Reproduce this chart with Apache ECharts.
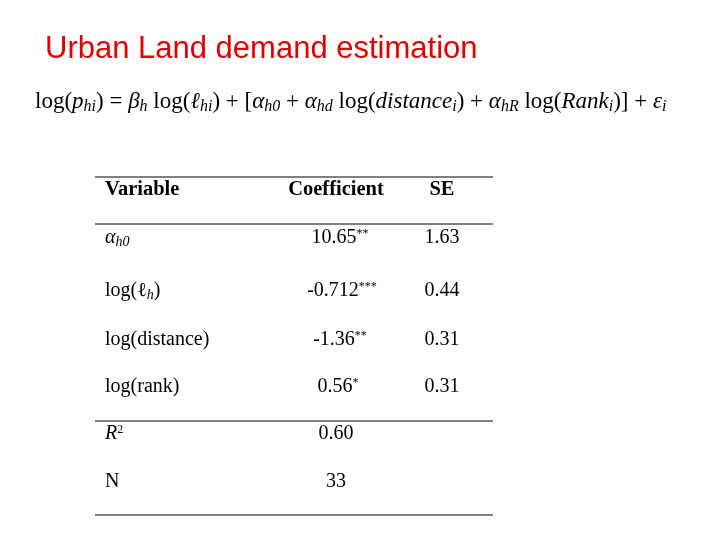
<!DOCTYPE html>
<html>
<head>
<meta charset="utf-8">
<script src="https://cdn.jsdelivr.net/npm/echarts@6/dist/echarts.min.js"></script>
<style>html,body{margin:0;background:#fff}#c{width:720px;height:540px}</style>
</head>
<body>
<div id="c"></div>
<script>
var title = 'Urban Land demand estimation';
var headers = ['Variable', 'Coefficient', 'SE'];
// rich-text labels for variables
var variables = ['{g|α}{s|h0}', 'log(ℓ{s|h})', 'log(distance)', 'log(rank)', '{i|R}{p|2}', 'N'];
var coefs = ['10.65', '-0.712', '-1.36', '0.56', '0.60', '33'];
var stars = ['**', '***', '**', '*', '', ''];
var ses = ['1.63', '0.44', '0.31', '0.31', '', ''];
var rowY = [237, 290, 339, 386, 433, 481];

var myChart = echarts.init(document.getElementById('c'));
var serif = '"Liberation Serif", "DejaVu Serif", serif';
var rich = {
  i: {fontFamily: serif, fontSize: 20, fontStyle: 'italic'},
  g: {fontFamily: serif, fontSize: 20, fontStyle: 'italic'},
  s: {fontFamily: serif, fontSize: 14, fontStyle: 'italic', verticalAlign: 'bottom', padding: [9, 0, 0, 0]},
  p: {fontFamily: serif, fontSize: 12, verticalAlign: 'top', padding: [0, 0, 9, 0]}
};
var frich = {
  i: {fontFamily: serif, fontSize: 23, fontStyle: 'italic'},
  g: {fontFamily: serif, fontSize: 23, fontStyle: 'italic'},
  s: {fontFamily: serif, fontSize: 16, fontStyle: 'italic', verticalAlign: 'bottom', padding: [10, 0, 0, 0]}
};
var els = [];
els.push({type: 'text', left: 45, top: 34, style: {text: title, fill: '#e00000', fontFamily: 'Liberation Sans, Arial', fontSize: 31}});
els.push({type: 'text', left: 35, top: 90, style: {
  text: 'log({i|p}{s|hi}) = {g|β}{s|h} log({i|ℓ}{s|hi}) + [{g|α}{s|h0} + {g|α}{s|hd} log({i|distance}{s|i}) + {g|α}{s|hR} log({i|Rank}{s|i})] + {g|ε}{s|i}',
  fontFamily: serif, fontSize: 23, fill: '#000', rich: frich}});
[177, 224, 421, 515].forEach(function (y) {
  els.push({type: 'line', shape: {x1: 95, y1: y, x2: 493, y2: y}, style: {stroke: '#000', lineWidth: 1}});
});
var hx = [105, 336, 442];
headers.forEach(function (h, k) {
  els.push({type: 'text', x: hx[k], y: 190, style: {text: h, fontFamily: serif, fontSize: 20.5, fontWeight: 'bold', fill: '#000',
    align: k === 0 ? 'left' : 'center', verticalAlign: 'middle'}});
});
rowY.forEach(function (y, r) {
  els.push({type: 'text', x: 105, y: y + 1, style: {text: variables[r], fontFamily: serif, fontSize: 20, fill: '#000', verticalAlign: 'middle', rich: rich}});
  var c = coefs[r] + (stars[r] ? '{p|' + stars[r] + '}' : '');
  els.push({type: 'text', x: 336 + (stars[r] ? stars[r].length * 2 : 0), y: y + 1, style: {text: c, fontFamily: serif, fontSize: 20, fill: '#000', align: 'center', verticalAlign: 'middle', rich: rich}});
  if (ses[r]) els.push({type: 'text', x: 442, y: y + 1, style: {text: ses[r], fontFamily: serif, fontSize: 20, fill: '#000', align: 'center', verticalAlign: 'middle'}});
});
myChart.setOption({graphic: els});
</script>
</body>
</html>
